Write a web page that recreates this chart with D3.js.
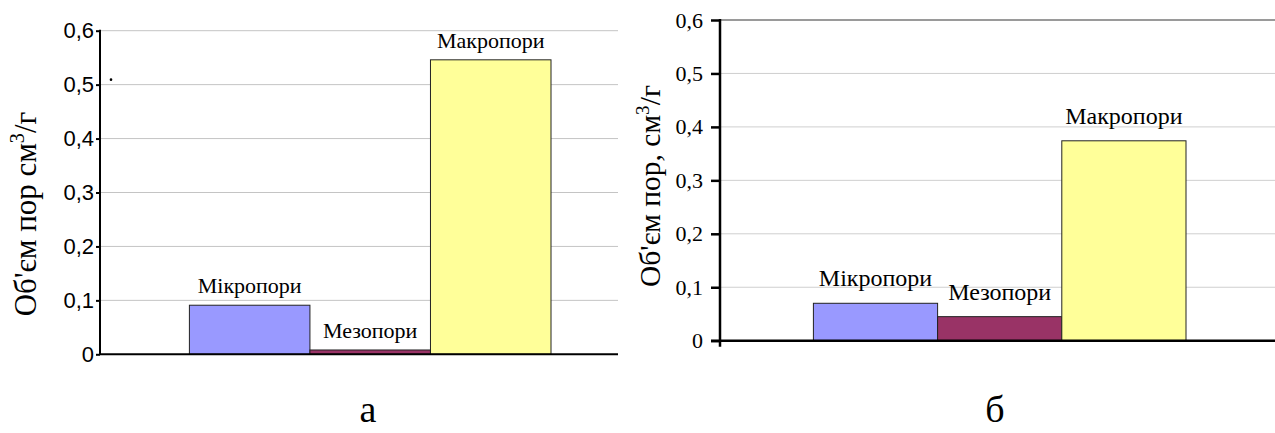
<!DOCTYPE html>
<html>
<head>
<meta charset="utf-8">
<script src="https://cdn.jsdelivr.net/npm/d3@7"></script>
</head>
<body style="margin:0">
<svg id="chart" width="1275" height="433"></svg>
<script>
// Pore volume by pore type for two samples (а, б)
const categories = ["Мікропори", "Мезопори", "Макропори"];
const valuesA = [0.091, 0.008, 0.546];
const valuesB = [0.070, 0.045, 0.374];
const colors = ["#9999FF", "#993366", "#FFFF99"];
const tickValues = [0, 0.1, 0.2, 0.3, 0.4, 0.5, 0.6];
const tickLabels = ["0", "0,1", "0,2", "0,3", "0,4", "0,5", "0,6"];

const SERIF = "Liberation Serif";
const SANS = "Liberation Sans";

const svg = d3.select("#chart");

const panels = [
  {
    values: valuesA, caption: "а", captionX: 368,
    title: ["Об'єм пор см", "3", "/г"], titleX: 36, titleY: 214, titleSize: 31,
    axisX: 100, gridRight: 618, yRange: [354.3, 30.7], barRange: [189.4, 551],
    tickFont: SANS, tickSize: 22, tickLen: 4, tickPad: 2,
    axisWidth: 2, gridColor: "#c4c4c4", topGridColor: "#c4c4c4", topGridWidth: 1,
    labelSize: 22, labelGap: 12, axisExtend: 0
  },
  {
    values: valuesB, caption: "б", captionX: 995,
    title: ["Об'єм пор, см", "3", "/г"], titleX: 660, titleY: 186, titleSize: 29.5,
    axisX: 720, gridRight: 1275, yRange: [340.7, 20], barRange: [813.4, 1186],
    tickFont: SERIF, tickSize: 22, tickLen: 9, tickPad: 8,
    axisWidth: 2.5, gridColor: "#cfcfcf", topGridColor: "#9a9a9a", topGridWidth: 2,
    labelSize: 24, labelGap: 17, axisExtend: 6
  }
];

// applies font family and size to a text selection
function font(sel, family, size) {
  return sel.style("font-family", family).style("font-size", size + "px");
}

panels.forEach(p => {
  const g = svg.append("g");
  const y = d3.scaleLinear().domain([0, 0.6]).range(p.yRange);
  const x = d3.scaleBand().domain(categories).range(p.barRange).padding(0);

  // horizontal gridlines
  g.append("g")
    .selectAll("line")
    .data(tickValues.filter(v => v > 0))
    .join("line")
    .attr("x1", p.axisX).attr("x2", p.gridRight)
    .attr("y1", d => y(d)).attr("y2", d => y(d))
    .attr("stroke", d => d === 0.6 ? p.topGridColor : p.gridColor)
    .attr("stroke-width", d => d === 0.6 ? p.topGridWidth : 1);

  // bars
  g.append("g")
    .selectAll("rect")
    .data(p.values)
    .join("rect")
    .attr("x", (d, i) => x(categories[i]))
    .attr("width", x.bandwidth())
    .attr("y", d => y(d))
    .attr("height", d => y(0) - y(d))
    .attr("fill", (d, i) => colors[i])
    .attr("stroke", "#222")
    .attr("stroke-width", 1);

  // bar labels
  g.append("g")
    .selectAll("text")
    .data(p.values)
    .join("text")
    .attr("x", (d, i) => x(categories[i]) + x.bandwidth() / 2)
    .attr("y", d => y(d) - p.labelGap)
    .attr("text-anchor", "middle")
    .attr("fill", "#000")
    .text((d, i) => categories[i])
    .call(font, SERIF, p.labelSize);

  // y axis
  const axis = d3.axisLeft(y)
    .tickValues(tickValues)
    .tickFormat((d, i) => tickLabels[i])
    .tickSize(p.tickLen)
    .tickPadding(p.tickPad);
  const ag = g.append("g").attr("transform", `translate(${p.axisX},0)`).call(axis);
  ag.attr("font-family", null).attr("font-size", null);
  ag.select(".domain").remove();
  ag.selectAll(".tick line").attr("stroke", "#000").attr("stroke-width", p.axisWidth);
  ag.selectAll(".tick text")
    .attr("fill", "#000")
    .call(font, p.tickFont, p.tickSize);
  ag.append("line")
    .attr("x1", 0).attr("x2", 0)
    .attr("y1", y(0.6) - 1).attr("y2", y(0) + p.axisExtend)
    .attr("stroke", "#000").attr("stroke-width", p.axisWidth);

  // baseline
  g.append("line")
    .attr("x1", p.axisX - (p.axisExtend ? p.tickLen : 0)).attr("x2", p.gridRight)
    .attr("y1", y(0)).attr("y2", y(0))
    .attr("stroke", "#000").attr("stroke-width", p.axisWidth);

  // y axis title
  const t = g.append("text")
    .attr("transform", `translate(${p.titleX},${p.titleY}) rotate(-90)`)
    .attr("text-anchor", "middle")
    .attr("fill", "#000")
    .call(font, SERIF, p.titleSize);
  t.append("tspan").text(p.title[0]);
  t.append("tspan").attr("dy", -p.titleSize * 0.38).style("font-size", (p.titleSize * 0.65) + "px").text(p.title[1]);
  t.append("tspan").attr("dy", p.titleSize * 0.38).text(p.title[2]);

  // panel caption
  g.append("text")
    .attr("x", p.captionX).attr("y", 422)
    .attr("text-anchor", "middle")
    .attr("fill", "#000")
    .text(p.caption)
    .call(font, SERIF, 38);
});

// stray dot beside the first axis
const yA = d3.scaleLinear().domain([0, 0.6]).range(panels[0].yRange);
svg.append("circle")
  .attr("cx", panels[0].axisX + 11).attr("cy", yA(0.5) - 5)
  .attr("r", 1.3).attr("fill", "#000");
</script>
</body>
</html>
